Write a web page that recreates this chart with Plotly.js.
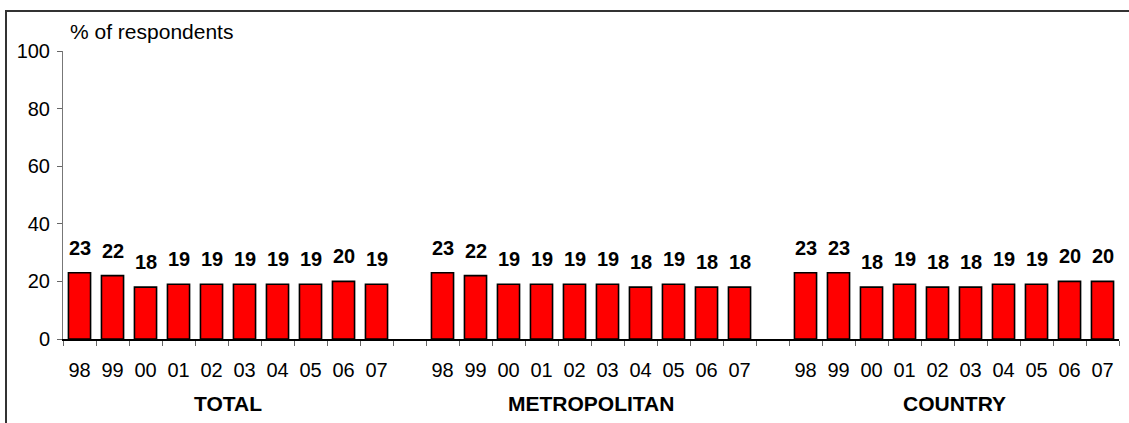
<!DOCTYPE html>
<html>
<head>
<meta charset="utf-8">
<script src="https://cdn.plot.ly/plotly-3.0.1.min.js"></script>
<style>
  html, body { margin: 0; padding: 0; background: #fff; overflow: hidden; }
  #wrap { position: relative; width: 1129px; height: 423px; }
  #frame { position: absolute; left: 5px; top: 10px; width: 1140px; height: 440px;
           border-left: 2px solid #333; border-top: 2px solid #333; pointer-events: none; }
  #chart { position: absolute; left: 0; top: 0; width: 1129px; height: 423px; }
</style>
</head>
<body>
<div id="wrap">
  <div id="chart"></div>
  <div id="frame"></div>
</div>
<script>
// Share of respondents by year, for each region
const groups = ["TOTAL", "METROPOLITAN", "COUNTRY"];
const years = ["98", "99", "00", "01", "02", "03", "04", "05", "06", "07"];
const totalValues = [23, 22, 18, 19, 19, 19, 19, 19, 20, 19];
const metroValues = [23, 22, 19, 19, 19, 19, 18, 19, 18, 18];
const countryValues = [23, 23, 18, 19, 18, 18, 19, 19, 20, 20];
const yTicks = [0, 20, 40, 60, 80, 100];

const series = [totalValues, metroValues, countryValues];
const slot = years.length + 1;            // one empty slot between regions
const nSlots = groups.length * slot - 1;

const FONT = "Liberation Sans, Arial, sans-serif";

const traces = series.map((vals, g) => ({
  type: "bar",
  x: vals.map((_, i) => g * slot + i),
  y: vals,
  width: 0.67,
  marker: { color: "#ff0000", line: { color: "#000", width: 1.6 } },
  hoverinfo: "x+y",
  showlegend: false
}));

const tickvals = [], ticktext = [];
groups.forEach((_, g) => years.forEach((yr, i) => { tickvals.push(g * slot + i); ticktext.push(yr); }));

const annotations = [];
series.forEach((vals, g) => vals.forEach((v, i) => annotations.push({
  x: g * slot + i, y: v, xref: "x", yref: "y",
  text: String(v), showarrow: false, yanchor: "bottom", yshift: 12,
  font: { family: FONT, size: 20, color: "#000", weight: "bold" }
})));
groups.forEach((name, g) => annotations.push({
  x: g * slot + (years.length - 1) / 2, y: 0, xref: "x", yref: "paper",
  text: "<b>" + name + "</b>", showarrow: false, yanchor: "middle", yshift: -64,
  font: { family: FONT, size: 21, color: "#000" }
}));
annotations.push({
  x: 0, y: 1, xref: "paper", yref: "paper", xanchor: "left", yanchor: "bottom",
  xshift: 5, yshift: 6, text: "% of respondents", showarrow: false,
  font: { family: FONT, size: 21, color: "#000" }
});

const layout = {
  width: 1129, height: 423,
  margin: { l: 63, r: 10, t: 51, b: 84 },
  paper_bgcolor: "rgba(0,0,0,0)", plot_bgcolor: "rgba(0,0,0,0)",
  font: { family: FONT, size: 20, color: "#000" },
  bargap: 0,
  xaxis: {
    type: "linear", range: [-0.5, nSlots - 0.5], fixedrange: true,
    tickmode: "array", tickvals: tickvals, ticktext: ticktext,
    ticks: "", ticklabelstandoff: 12,
    showline: true, linecolor: "#000", linewidth: 1.5,
    showgrid: false, zeroline: false,
    minor: { tickmode: "linear", tick0: -0.5, dtick: 1, ticks: "outside",
             ticklen: 5, tickcolor: "#666", tickwidth: 1, showgrid: false }
  },
  yaxis: {
    range: [0, 100], fixedrange: true,
    tickmode: "array", tickvals: yTicks,
    ticks: "outside", ticklen: 5, tickcolor: "#666", tickwidth: 1,
    ticklabelstandoff: 3,
    showline: true, linecolor: "#777", linewidth: 1,
    showgrid: false, zeroline: false
  },
  annotations: annotations
};

Plotly.newPlot("chart", traces, layout, { displayModeBar: false, staticPlot: true });
</script>
</body>
</html>
